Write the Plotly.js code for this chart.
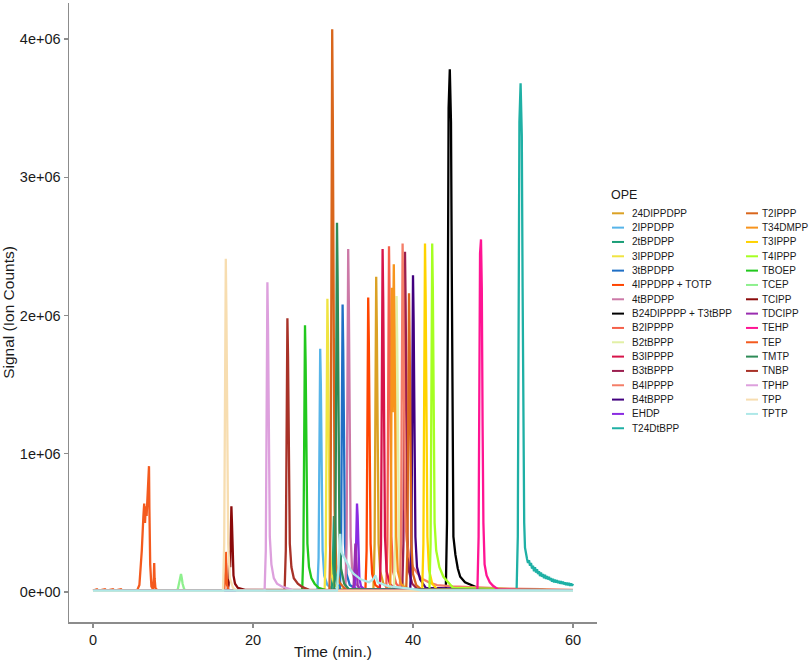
<!DOCTYPE html>
<html>
<head>
<meta charset="utf-8">
<script src="https://cdn.plot.ly/plotly-3.0.1.min.js"></script>
<style>html,body{margin:0;padding:0;background:#fff;}#chart{width:809px;height:660px;}</style>
</head>
<body>
<div id="chart"></div>
<script>
// ---------------- DATA ----------------
const seriesNames = ["24DIPPDPP","2IPPDPP","2tBPDPP","3IPPDPP","3tBPDPP","4IPPDPP + TOTP","4tBPDPP",
  "B24DIPPPP + T3tBPP","B2IPPPP","B2tBPPP","B3IPPPP","B3tBPPP","B4IPPPP","B4tBPPP","EHDP","T24DtBPP",
  "T2IPPP","T34DMPP","T3IPPP","T4IPPP","TBOEP","TCEP","TCIPP","TDCIPP","TEHP","TEP","TMTP","TNBP","TPHP","TPP","TPTP"];

const seriesColors = ["#DBA124","#56B4E9","#1B9E77","#F0E442","#1F6FC5","#FF4500","#CC79A7",
  "#000000","#F5604A","#E2F0A6","#D7144A","#9B1F4F","#F47E68","#42007F","#8A2BE2","#1FB0A5",
  "#D9661C","#F7941D","#FFD300","#A6FF22","#22C81E","#8EF08E","#8B0A0A","#9A2DB0","#FF1493","#F45A1E","#2E8B57","#A83228","#DDA0DD","#F7DDB0","#AEE8E8"];

const t_24DIPPDPP = [0, 35.05, 35.2, 35.28, 35.35, 35.4, 35.48, 35.58, 35.7, 35.9, 36.3, 37.0, 60];
const s_24DIPPDPP = [0.01e6, 0.01e6, 0.35e6, 1.6e6, 2.15e6, 2.28e6, 1.9e6, 1.0e6, 0.35e6, 0.15e6, 0.06e6, 0.02e6, 0.01e6];

const t_2IPPDPP = [0, 28.05, 28.2, 28.28, 28.35, 28.4, 28.48, 28.58, 28.7, 28.9, 29.3, 30.0, 60];
const s_2IPPDPP = [0.01e6, 0.01e6, 0.25e6, 1.2e6, 1.65e6, 1.76e6, 1.5e6, 0.8e6, 0.3e6, 0.12e6, 0.05e6, 0.02e6, 0.01e6];

const t_2tBPDPP = [0, 29.8, 29.95, 30.02, 30.08, 30.12, 30.18, 30.26, 30.4, 30.6, 31.0, 60];
const s_2tBPDPP = [0.01e6, 0.01e6, 0.1e6, 0.35e6, 0.5e6, 0.55e6, 0.42e6, 0.2e6, 0.09e6, 0.04e6, 0.02e6, 0.01e6];

const t_3IPPDPP = [0, 28.95, 29.1, 29.18, 29.25, 29.3, 29.38, 29.48, 29.6, 29.8, 30.2, 31.0, 60];
const s_3IPPDPP = [0.01e6, 0.01e6, 0.3e6, 1.5e6, 2.0e6, 2.12e6, 1.8e6, 0.95e6, 0.35e6, 0.13e6, 0.05e6, 0.02e6, 0.01e6];

const t_3tBPDPP = [0, 30.85, 31.0, 31.08, 31.15, 31.2, 31.28, 31.38, 31.5, 31.7, 32.1, 33.0, 60];
const s_3tBPDPP = [0.01e6, 0.01e6, 0.3e6, 1.45e6, 1.95e6, 2.08e6, 1.75e6, 0.9e6, 0.35e6, 0.13e6, 0.05e6, 0.02e6, 0.01e6];

const t_4IPPDPP_TOTP = [0, 34.05, 34.2, 34.28, 34.35, 34.4, 34.48, 34.58, 34.7, 34.9, 35.3, 36.0, 60];
const s_4IPPDPP_TOTP = [0.01e6, 0.01e6, 0.3e6, 1.5e6, 2.0e6, 2.13e6, 1.8e6, 0.95e6, 0.35e6, 0.13e6, 0.05e6, 0.02e6, 0.01e6];

const t_4tBPDPP = [0, 31.55, 31.7, 31.78, 31.85, 31.9, 31.98, 32.08, 32.2, 32.4, 32.8, 33.5, 60];
const s_4tBPDPP = [0.01e6, 0.01e6, 0.35e6, 1.75e6, 2.35e6, 2.48e6, 2.1e6, 1.1e6, 0.4e6, 0.15e6, 0.06e6, 0.02e6, 0.01e6];

const t_B24DIPPPP_T3tBPP = [0, 44.1, 44.25, 44.35, 44.45, 44.6, 44.75, 44.85, 44.95, 45.05, 45.3, 45.6, 45.9, 46.5, 47.5, 48.5, 60];
const s_B24DIPPPP_T3tBPP = [0.01e6, 0.01e6, 0.5e6, 2.4e6, 3.5e6, 3.78e6, 3.4e6, 2.3e6, 1.0e6, 0.4e6, 0.27e6, 0.17e6, 0.11e6, 0.07e6, 0.045e6, 0.02e6, 0.01e6];

const t_B2IPPPP = [0, 36.65, 36.8, 36.88, 36.95, 37.0, 37.08, 37.18, 37.3, 37.5, 37.9, 38.6, 60];
const s_B2IPPPP = [0.01e6, 0.01e6, 0.35e6, 1.75e6, 2.38e6, 2.5e6, 2.1e6, 1.1e6, 0.4e6, 0.15e6, 0.06e6, 0.02e6, 0.01e6];

const t_B2tBPPP = [0, 37.6, 37.75, 37.83, 37.9, 37.95, 38.03, 38.13, 38.25, 38.45, 38.85, 39.5, 60];
const s_B2tBPPP = [0.01e6, 0.01e6, 0.3e6, 1.5e6, 2.02e6, 2.14e6, 1.8e6, 0.95e6, 0.35e6, 0.13e6, 0.05e6, 0.02e6, 0.01e6];

const t_B3IPPPP = [0, 35.85, 36.0, 36.08, 36.15, 36.2, 36.28, 36.38, 36.5, 36.7, 37.1, 37.8, 60];
const s_B3IPPPP = [0.01e6, 0.01e6, 0.35e6, 1.75e6, 2.35e6, 2.48e6, 2.1e6, 1.1e6, 0.4e6, 0.15e6, 0.06e6, 0.02e6, 0.01e6];

const t_B3tBPPP = [0, 38.65, 38.8, 38.88, 38.95, 39.0, 39.08, 39.18, 39.3, 39.5, 39.9, 40.6, 60];
const s_B3tBPPP = [0.01e6, 0.01e6, 0.35e6, 1.7e6, 2.33e6, 2.46e6, 2.08e6, 1.1e6, 0.4e6, 0.15e6, 0.06e6, 0.02e6, 0.01e6];

const t_B4IPPPP = [0, 38.35, 38.5, 38.58, 38.65, 38.7, 38.78, 38.88, 39.0, 39.2, 39.5, 40.0, 40.5, 41.0, 42.0, 43.0, 45.0, 48.0, 52.0, 56.0, 60];
const s_B4IPPPP = [0.01e6, 0.01e6, 0.35e6, 1.75e6, 2.4e6, 2.52e6, 2.15e6, 1.2e6, 0.6e6, 0.38e6, 0.26e6, 0.18e6, 0.14e6, 0.1e6, 0.07e6, 0.05e6, 0.04e6, 0.032e6, 0.025e6, 0.02e6, 0.015e6];

const t_B4tBPPP = [0, 39.65, 39.8, 39.88, 39.95, 40.0, 40.08, 40.18, 40.3, 40.5, 40.9, 41.6, 60];
const s_B4tBPPP = [0.01e6, 0.01e6, 0.3e6, 1.6e6, 2.17e6, 2.29e6, 1.95e6, 1.0e6, 0.4e6, 0.18e6, 0.09e6, 0.03e6, 0.01e6];

const t_EHDP = [0, 32.65, 32.8, 32.88, 32.95, 33.0, 33.08, 33.18, 33.3, 33.5, 33.9, 60];
const s_EHDP = [0.01e6, 0.01e6, 0.1e6, 0.45e6, 0.6e6, 0.64e6, 0.55e6, 0.3e6, 0.1e6, 0.04e6, 0.02e6, 0.01e6];

const t_T24DtBPP = [0, 52.95, 53.1, 53.2, 53.3, 53.45, 53.6, 53.7, 53.8, 53.9,
  54.0, 54.125, 54.25, 54.375, 54.5, 54.625, 54.75, 54.875, 55.0, 55.125, 55.25, 55.375, 55.5, 55.625, 55.75, 55.875,
  56.0, 56.125, 56.25, 56.375, 56.5, 56.625, 56.75, 56.875, 57.0, 57.125, 57.25, 57.375, 57.5, 57.625, 57.75, 57.875,
  58.0, 58.125, 58.25, 58.375, 58.5, 58.625, 58.75, 58.875, 59.0, 59.125, 59.25, 59.375, 59.5, 59.625, 59.75, 59.875, 60.0];
const s_T24DtBPP = [0.01e6, 0.01e6, 0.4e6, 2.2e6, 3.4e6, 3.68e6, 3.3e6, 2.2e6, 1.1e6, 0.5e6,
  0.32e6, 0.27e6, 0.24e6, 0.21e6, 0.23e6, 0.19e6, 0.21e6, 0.17e6, 0.19e6, 0.15e6, 0.18e6, 0.14e6, 0.165e6, 0.13e6, 0.15e6, 0.115e6,
  0.14e6, 0.11e6, 0.13e6, 0.1e6, 0.125e6, 0.095e6, 0.115e6, 0.09e6, 0.11e6, 0.085e6, 0.1e6, 0.075e6, 0.095e6, 0.07e6, 0.09e6, 0.068e6,
  0.085e6, 0.065e6, 0.08e6, 0.06e6, 0.078e6, 0.058e6, 0.075e6, 0.055e6, 0.07e6, 0.05e6, 0.068e6, 0.048e6, 0.065e6, 0.045e6, 0.062e6, 0.045e6, 0.06e6];

const t_T2IPPP = [0, 29.55, 29.7, 29.78, 29.85, 29.9, 29.98, 30.08, 30.2, 30.4, 30.8, 31.5, 39.15, 39.3, 39.38, 39.45, 39.5, 39.58, 39.68, 39.8, 40.0, 40.4, 41.0, 60];
const s_T2IPPP = [0.01e6, 0.01e6, 0.5e6, 2.9e6, 3.85e6, 4.07e6, 3.4e6, 1.7e6, 0.6e6, 0.2e6, 0.07e6, 0.02e6, 0.01e6, 0.3e6, 1.5e6, 2.03e6, 2.16e6, 1.8e6, 0.95e6, 0.35e6, 0.13e6, 0.05e6, 0.02e6, 0.01e6];

const t_T34DMPP = [0, 37.15, 37.25, 37.3, 37.35, 37.42, 37.47, 37.52, 37.57, 37.6, 37.68, 37.78, 37.9, 38.1, 38.5, 39.2, 60];
const s_T34DMPP = [0.01e6, 0.01e6, 0.5e6, 1.8e6, 2.2e6, 1.5e6, 1.3e6, 1.9e6, 2.3e6, 2.37e6, 1.9e6, 1.0e6, 0.4e6, 0.15e6, 0.06e6, 0.02e6, 0.01e6];

const t_T3IPPP = [0, 41.15, 41.3, 41.38, 41.45, 41.5, 41.58, 41.68, 41.8, 42.0, 42.4, 43.0, 60];
const s_T3IPPP = [0.01e6, 0.01e6, 0.35e6, 1.75e6, 2.4e6, 2.52e6, 2.15e6, 1.1e6, 0.4e6, 0.16e6, 0.06e6, 0.02e6, 0.01e6];

const t_T4IPPP = [0, 42.05, 42.2, 42.28, 42.35, 42.4, 42.48, 42.58, 42.7, 42.9, 43.3, 43.8, 44.4, 45.0, 60];
const s_T4IPPP = [0.01e6, 0.01e6, 0.35e6, 1.75e6, 2.4e6, 2.52e6, 2.2e6, 1.3e6, 0.5e6, 0.3e6, 0.18e6, 0.11e6, 0.07e6, 0.03e6, 0.01e6];

const t_TBOEP = [0, 26.15, 26.3, 26.38, 26.45, 26.5, 26.58, 26.68, 26.8, 27.0, 27.3, 27.7, 28.2, 29.0, 60];
const s_TBOEP = [0.01e6, 0.01e6, 0.3e6, 1.35e6, 1.83e6, 1.93e6, 1.65e6, 0.85e6, 0.35e6, 0.18e6, 0.1e6, 0.06e6, 0.03e6, 0.015e6, 0.01e6];

const t_TCEP = [0, 10.4, 10.6, 10.8, 10.9, 11.0, 11.1, 11.2, 11.4, 11.6, 60];
const s_TCEP = [0.01e6, 0.01e6, 0.02e6, 0.07e6, 0.11e6, 0.13e6, 0.1e6, 0.06e6, 0.02e6, 0.01e6, 0.01e6];

const t_TCIPP = [0, 16.8, 16.95, 17.0, 17.05, 17.1, 17.15, 17.2, 17.25, 17.3, 17.38, 17.46, 17.56, 17.75, 18.1, 19.0, 60];
const s_TCIPP = [0.01e6, 0.01e6, 0.05e6, 0.2e6, 0.3e6, 0.2e6, 0.18e6, 0.35e6, 0.55e6, 0.62e6, 0.48e6, 0.25e6, 0.12e6, 0.06e6, 0.03e6, 0.015e6, 0.01e6];

const t_TDCIPP = [0, 32.4, 32.58, 32.66, 32.74, 32.8, 32.88, 32.96, 33.08, 33.3, 60];
const s_TDCIPP = [0.01e6, 0.01e6, 0.05e6, 0.22e6, 0.32e6, 0.35e6, 0.27e6, 0.13e6, 0.05e6, 0.02e6, 0.01e6];

const t_TEHP = [0, 48.05, 48.2, 48.28, 48.38, 48.5, 48.6, 48.7, 48.8, 48.95, 49.2, 49.6, 50.0, 50.6, 60];
const s_TEHP = [0.01e6, 0.01e6, 0.4e6, 1.9e6, 2.45e6, 2.55e6, 2.2e6, 1.2e6, 0.5e6, 0.2e6, 0.12e6, 0.07e6, 0.045e6, 0.02e6, 0.01e6];

const t_TEP = [0, 0.5, 0.7, 1.5, 1.7, 2.5, 2.7, 3.5, 3.7, 4.5, 5.5, 5.8, 6.1, 6.3, 6.4, 6.5, 6.6, 6.7, 6.8, 6.9, 7.0, 7.05, 7.15, 7.3, 7.5, 7.6, 7.65, 7.7, 7.8, 8.0, 9.0, 16.4, 16.55, 16.6, 16.65, 16.75, 17.0, 60];
const s_TEP = [0.01e6, 0.02e6, 0.01e6, 0.02e6, 0.01e6, 0.02e6, 0.01e6, 0.02e6, 0.01e6, 0.01e6, 0.01e6, 0.05e6, 0.3e6, 0.55e6, 0.64e6, 0.5e6, 0.62e6, 0.55e6, 0.7e6, 0.8e6, 0.91e6, 0.6e6, 0.2e6, 0.04e6, 0.02e6, 0.1e6, 0.21e6, 0.1e6, 0.03e6, 0.015e6, 0.01e6, 0.01e6, 0.15e6, 0.29e6, 0.2e6, 0.05e6, 0.01e6, 0.01e6];

const t_TMTP = [0, 30.15, 30.3, 30.38, 30.45, 30.5, 30.58, 30.68, 30.8, 31.0, 31.4, 32.0, 60];
const s_TMTP = [0.01e6, 0.01e6, 0.4e6, 1.9e6, 2.55e6, 2.67e6, 2.25e6, 1.2e6, 0.45e6, 0.17e6, 0.06e6, 0.02e6, 0.01e6];

const t_TNBP = [0, 23.95, 24.1, 24.18, 24.25, 24.3, 24.38, 24.48, 24.6, 24.8, 25.1, 25.6, 26.2, 27.0, 60];
const s_TNBP = [0.01e6, 0.01e6, 0.3e6, 1.4e6, 1.88e6, 1.98e6, 1.7e6, 0.9e6, 0.35e6, 0.18e6, 0.1e6, 0.06e6, 0.035e6, 0.015e6, 0.01e6];

const t_TPHP = [0, 21.45, 21.6, 21.68, 21.75, 21.8, 21.88, 21.98, 22.1, 22.3, 22.6, 23.0, 23.6, 24.4, 25.0, 60];
const s_TPHP = [0.01e6, 0.01e6, 0.3e6, 1.6e6, 2.12e6, 2.24e6, 1.9e6, 1.0e6, 0.4e6, 0.2e6, 0.1e6, 0.06e6, 0.04e6, 0.025e6, 0.012e6, 0.01e6];

const t_TPP = [0, 16.25, 16.4, 16.48, 16.55, 16.6, 16.68, 16.78, 16.9, 17.1, 17.5, 18.0, 60];
const s_TPP = [0.008e6, 0.008e6, 0.35e6, 1.7e6, 2.3e6, 2.41e6, 2.0e6, 1.0e6, 0.35e6, 0.1e6, 0.03e6, 0.01e6, 0.008e6];

const t_TPTP = [0, 30.5, 30.7, 30.9, 31.0, 31.2, 31.5, 31.8, 32.2, 32.6, 33.0, 33.5, 34.0, 34.5, 35.0, 35.3, 35.6, 36.0, 36.5, 37.0, 38.0, 39.0, 40.0, 41.0, 60];
const s_TPTP = [0.01e6, 0.01e6, 0.2e6, 0.42e6, 0.3e6, 0.27e6, 0.24e6, 0.2e6, 0.16e6, 0.13e6, 0.11e6, 0.09e6, 0.08e6, 0.07e6, 0.09e6, 0.12e6, 0.07e6, 0.06e6, 0.05e6, 0.04e6, 0.035e6, 0.03e6, 0.02e6, 0.012e6, 0.01e6];

const seriesTimes = [t_24DIPPDPP, t_2IPPDPP, t_2tBPDPP, t_3IPPDPP, t_3tBPDPP, t_4IPPDPP_TOTP, t_4tBPDPP,
  t_B24DIPPPP_T3tBPP, t_B2IPPPP, t_B2tBPPP, t_B3IPPPP, t_B3tBPPP, t_B4IPPPP, t_B4tBPPP, t_EHDP, t_T24DtBPP,
  t_T2IPPP, t_T34DMPP, t_T3IPPP, t_T4IPPP, t_TBOEP, t_TCEP, t_TCIPP, t_TDCIPP, t_TEHP, t_TEP, t_TMTP, t_TNBP, t_TPHP, t_TPP, t_TPTP];
const seriesSignals = [s_24DIPPDPP, s_2IPPDPP, s_2tBPDPP, s_3IPPDPP, s_3tBPDPP, s_4IPPDPP_TOTP, s_4tBPDPP,
  s_B24DIPPPP_T3tBPP, s_B2IPPPP, s_B2tBPPP, s_B3IPPPP, s_B3tBPPP, s_B4IPPPP, s_B4tBPPP, s_EHDP, s_T24DtBPP,
  s_T2IPPP, s_T34DMPP, s_T3IPPP, s_T4IPPP, s_TBOEP, s_TCEP, s_TCIPP, s_TDCIPP, s_TEHP, s_TEP, s_TMTP, s_TNBP, s_TPHP, s_TPP, s_TPTP];

const xTickVals = [0, 20, 40, 60];
const yTickVals = [0, 1e6, 2e6, 3e6, 4e6];
const yTickText = ["0e+00", "1e+06", "2e+06", "3e+06", "4e+06"];
const legendTitle = "OPE";

// ---------------- LAYOUT ----------------
const FONT = "Liberation Sans, Arial, Helvetica, sans-serif";
const W = 809, H = 660;
const ML = 69, MR = 212, MT = 3, MB = 38;
const PW = W - ML - MR, PH = H - MT - MB;
const px2x = px => (px - ML) / PW;
const py2y = py => (H - MB - py) / PH;

const traces = seriesNames.map((name, i) => ({
  type: "scatter", mode: "lines", name: name,
  x: seriesTimes[i], y: seriesSignals[i],
  line: {color: seriesColors[i], width: 2.3},
  showlegend: false, hoverinfo: "skip"
}));

// custom legend (two columns, ggplot style)
const shapes = [], annotations = [];
annotations.push({xref: "paper", yref: "paper", x: px2x(609), y: py2y(195), xanchor: "left", yanchor: "middle",
  text: legendTitle, showarrow: false, font: {family: FONT, size: 12.5, color: "#1a1a1a"}});
const nCol1 = 16, rowH = 14.33, row0 = 213.3;
seriesNames.forEach((name, i) => {
  const col = i < nCol1 ? 0 : 1;
  const r = col === 0 ? i : i - nCol1;
  const py = row0 + r * rowH;
  const sx0 = col === 0 ? 612 : 746, sx1 = sx0 + 12;
  const tx = col === 0 ? 630 : 760;
  shapes.push({type: "line", xref: "paper", yref: "paper", x0: px2x(sx0), x1: px2x(sx1), y0: py2y(py), y1: py2y(py),
    line: {color: seriesColors[i], width: 2}});
  annotations.push({xref: "paper", yref: "paper", x: px2x(tx), y: py2y(py), xanchor: "left", yanchor: "middle",
    text: name, showarrow: false, font: {family: FONT, size: 10, color: "#1a1a1a"}});
});

const layout = {
  width: W, height: H,
  margin: {l: ML, r: MR, t: MT, b: MB, pad: 0},
  paper_bgcolor: "#fff", plot_bgcolor: "#fff",
  showlegend: false,
  font: {family: FONT, color: "#1a1a1a"},
  xaxis: {
    range: [-3, 63], tickvals: xTickVals, ticks: "outside", ticklen: 4, tickwidth: 1.3, tickcolor: "#8c8c8c",
    showline: true, linecolor: "#8c8c8c", linewidth: 1.5, showgrid: false, zeroline: false,
    tickfont: {family: FONT, size: 14.5, color: "#1a1a1a"},
    title: {text: "Time (min.)", font: {family: FONT, size: 15.5, color: "#1a1a1a"}, standoff: 4}
  },
  yaxis: {
    range: [-0.217e6, 4.26e6], tickvals: yTickVals, ticktext: yTickText, ticks: "outside", ticklen: 4, tickwidth: 1.3, tickcolor: "#8c8c8c",
    showline: true, linecolor: "#8c8c8c", linewidth: 1.5, showgrid: false, zeroline: false,
    tickfont: {family: FONT, size: 14.5, color: "#1a1a1a"},
    title: {text: "Signal (Ion Counts)", font: {family: FONT, size: 15.5, color: "#1a1a1a"}, standoff: 4}
  },
  shapes: shapes,
  annotations: annotations
};

Plotly.newPlot("chart", traces, layout, {staticPlot: true, displayModeBar: false});
</script>
</body>
</html>
